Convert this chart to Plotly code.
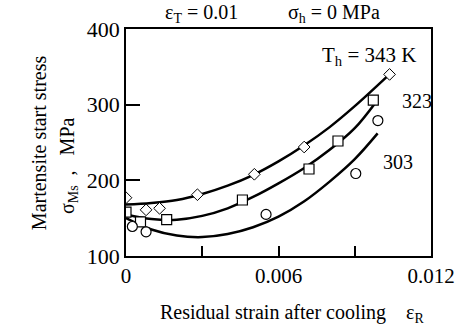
import plotly.graph_objects as go

# Measured points
x_343 = [0.0000, 0.00079, 0.00132, 0.00281, 0.00505, 0.00701, 0.01037]
y_343 = [177, 161, 163, 181, 208, 244, 340]
x_323 = [0.0000, 0.00057, 0.0016, 0.00458, 0.0072, 0.00834, 0.00973]
y_323 = [158, 145, 148, 174, 215, 252, 306]
x_303 = [0.00025, 0.00079, 0.00551, 0.00904, 0.00991]
y_303 = [139, 132, 155, 209, 279]

# Fitted curves
cx_343 = [0.0, 0.001, 0.002, 0.003, 0.004, 0.005, 0.006, 0.007, 0.008, 0.009, 0.0103]
cy_343 = [168, 170, 174, 182, 193, 207, 225, 246, 270, 298, 338]
cx_323 = [0.0, 0.001, 0.002, 0.003, 0.004, 0.005, 0.006, 0.007, 0.008, 0.009, 0.0098]
cy_323 = [155, 149, 148, 153, 163, 178, 196, 216, 240, 269, 302]
cx_303 = [0.0, 0.001, 0.002, 0.003, 0.004, 0.005, 0.006, 0.007, 0.008, 0.009, 0.0099]
cy_303 = [150, 135, 127, 125, 129, 138, 152, 172, 198, 228, 262]

x_tickvals = [0, 0.003, 0.006, 0.009, 0.012]
x_ticktext = ["0", "", "0.006", "", "0.012"]
y_tickvals = [100, 200, 300, 400]
y_ticktext = ["100", "200", "300", "400"]

FONT = "Liberation Serif"
W, H = 467, 334
L, R, T, B = 126, 25, 29, 78
pw, ph = W - L - R, H - T - B

fig = go.Figure()
for cx, cy in [(cx_343, cy_343), (cx_323, cy_323), (cx_303, cy_303)]:
    fig.add_trace(go.Scatter(x=cx, y=cy, mode="lines", line=dict(color="black", width=2.5, shape="spline"),
                             showlegend=False, hoverinfo="skip"))
fig.add_trace(go.Scatter(x=x_343, y=y_343, mode="markers",
                         marker=dict(symbol="diamond", size=9, color="white", line=dict(color="black", width=1)),
                         showlegend=False))
fig.add_trace(go.Scatter(x=x_323, y=y_323, mode="markers",
                         marker=dict(symbol="square", size=10, color="white", line=dict(color="black", width=1.2)),
                         showlegend=False))
fig.add_trace(go.Scatter(x=x_303, y=y_303, mode="markers",
                         marker=dict(symbol="circle", size=10, color="white", line=dict(color="black", width=1.2)),
                         showlegend=False))

fig.update_layout(
    width=W, height=H,
    margin=dict(l=L, r=R, t=T, b=B),
    paper_bgcolor="white", plot_bgcolor="white",
    font=dict(family=FONT, size=21, color="black"),
    xaxis=dict(range=[0, 0.012], tickvals=x_tickvals, ticktext=x_ticktext, ticks="inside", ticklen=10,
               tickcolor="black", tickwidth=1.5, showline=True, linecolor="black", linewidth=1.5, mirror=True,
               showgrid=False, zeroline=False, tickfont=dict(family=FONT, size=21)),
    yaxis=dict(range=[100, 400], tickvals=y_tickvals, ticktext=y_ticktext, ticks="inside", ticklen=14,
               tickcolor="black", tickwidth=1.5, showline=True, linecolor="black", linewidth=1.5, mirror=True,
               showgrid=False, zeroline=False, tickfont=dict(family=FONT, size=22)),
)

ann = [
    dict(x=204, y=14, text="ε<sub>T</sub> = 0.01", size=20),
    dict(x=341, y=14, text="σ<sub>h</sub> = 0 MPa", size=20),
    dict(x=378, y=56, text="T<sub>h</sub> = 343 K", size=21),
    dict(x=428, y=101, text="323", size=20),
    dict(x=408, y=162, text="303", size=20),
    dict(x=298, y=313, text="Residual strain after cooling    ε<sub>R</sub>", size=20),
]
for a in ann:
    fig.add_annotation(x=(a["x"] - L) / pw, y=1 - (a["y"] - T) / ph, xref="paper", yref="paper",
                       text=a["text"], showarrow=False, xanchor="center", yanchor="middle",
                       font=dict(family=FONT, size=a["size"], color="black"))
for txt, px, py in [("Martensite start stress", 36, 143), ("σ<sub>Ms</sub>  ,   MPa", 66, 166)]:
    fig.add_annotation(x=(px - L) / pw, y=1 - (py - T) / ph, xref="paper", yref="paper",
                       text=txt, showarrow=False, textangle=-90, xanchor="center", yanchor="middle",
                       font=dict(family=FONT, size=20, color="black"))

fig.write_html("out.html")
